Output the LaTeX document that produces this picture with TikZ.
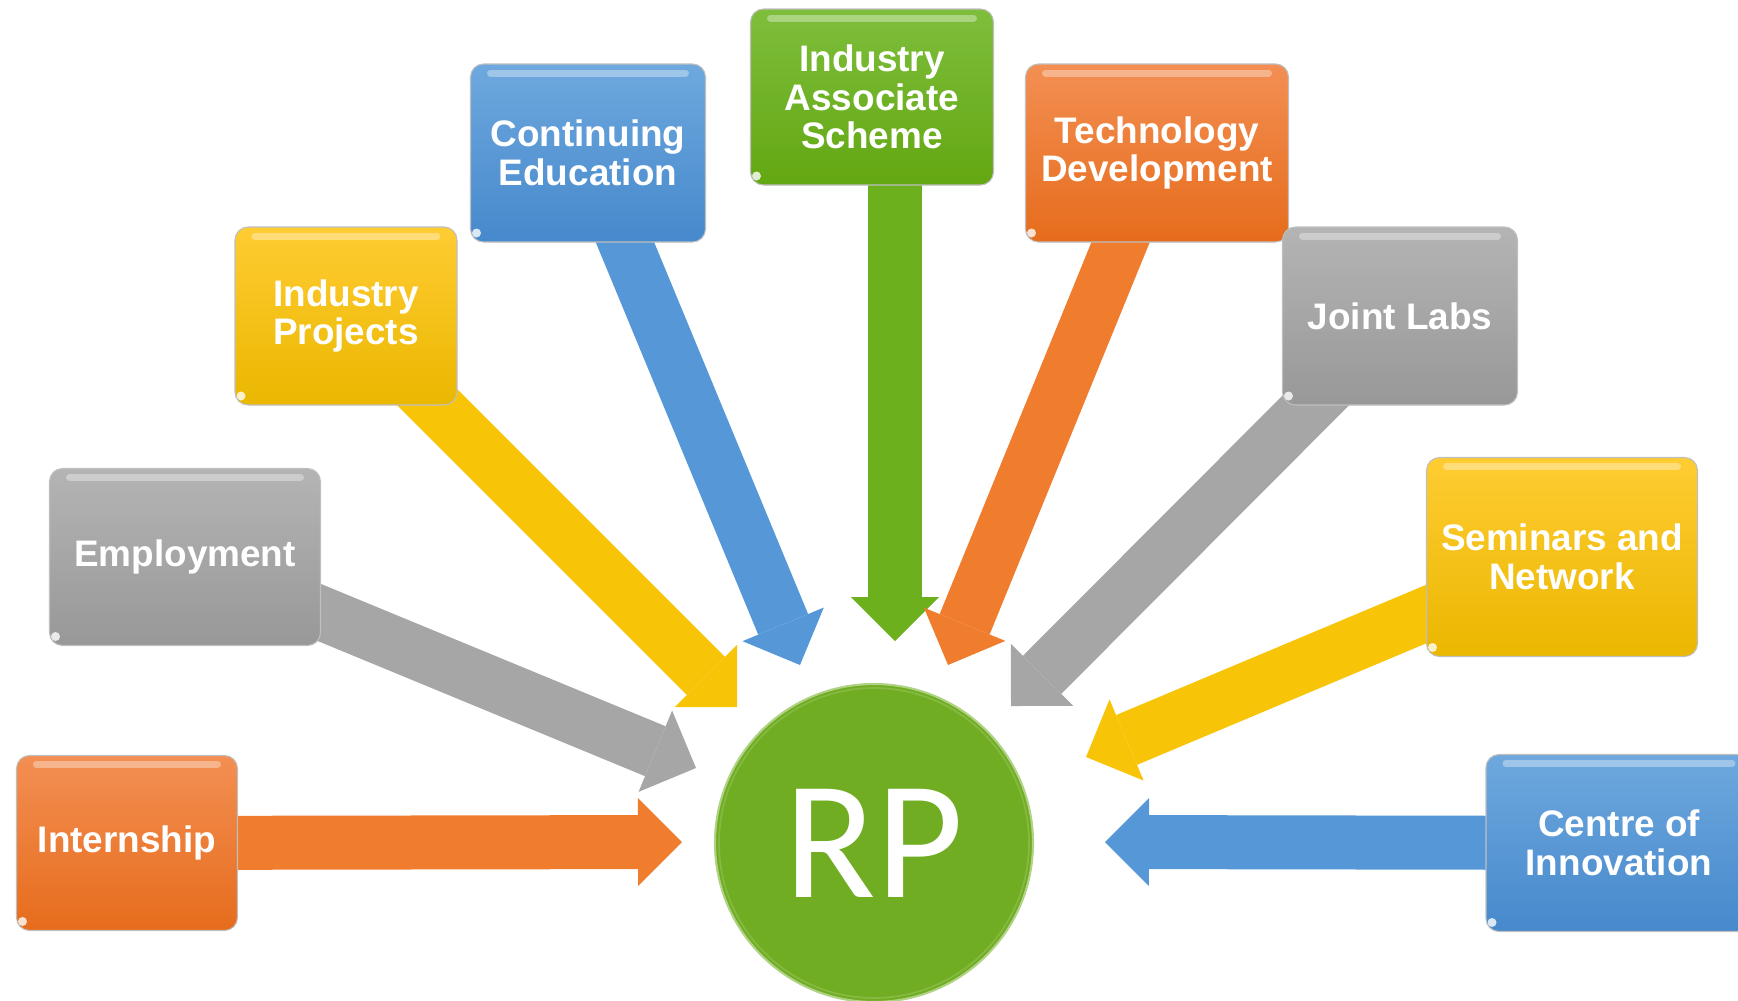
\documentclass[tikz,border=0pt]{standalone}
\usepackage{fontspec}
\setmainfont{Liberation Sans}
\newfontfamily\rpfont{Carlito}
\usepackage{tikz}
\usetikzlibrary{arrows.meta, backgrounds}

\definecolor{orangeT}{RGB}{243,143,83}
\definecolor{orangeB}{RGB}{230,108,28}
\definecolor{orangeA}{RGB}{240,124,46}
\definecolor{grayT}{RGB}{180,180,180}
\definecolor{grayB}{RGB}{152,152,152}
\definecolor{grayA}{RGB}{166,166,166}
\definecolor{yellowT}{RGB}{255,204,51}
\definecolor{yellowB}{RGB}{234,183,0}
\definecolor{yellowA}{RGB}{248,196,8}
\definecolor{blueT}{RGB}{110,168,222}
\definecolor{blueB}{RGB}{70,137,204}
\definecolor{blueA}{RGB}{86,152,215}
\definecolor{greenT}{RGB}{126,190,60}
\definecolor{greenB}{RGB}{99,167,18}
\definecolor{greenA}{RGB}{108,176,30}
\definecolor{hub}{RGB}{112,173,34}

\tikzset{
    x=0.1mm, y=-0.1mm, % one unit is one pixel, y runs downwards
    box/.style={rounded corners=1.3mm, draw=white!75!black, line width=0.3pt,
        text=white, align=center, inner sep=0pt,
        font=\fontsize{10.5}{11}\selectfont\bfseries,
        path picture={
            % glossy stripe along the top edge
            \draw[white, opacity=0.35, line width=0.7mm, line cap=round]
              ([xshift=2mm, yshift=-0.9mm]path picture bounding box.north west) --
              ([xshift=-2mm, yshift=-0.9mm]path picture bounding box.north east);
            \fill[white, opacity=0.8]
              ([xshift=0.6mm, yshift=0.9mm]path picture bounding box.south west) circle (0.45mm);
        }}, % the coloured tiles
    orangebox/.style={box, top color=orangeT, bottom color=orangeB},
    graybox/.style={box, top color=grayT, bottom color=grayB},
    yellowbox/.style={box, top color=yellowT, bottom color=yellowB},
    bluebox/.style={box, top color=blueT, bottom color=blueB},
    greenbox/.style={box, top color=greenT, bottom color=greenB},
    feed/.style={line width=5.4mm, -{Triangle[width=8.8mm, length=4.4mm, line width=0pt]}}, % block arrow into the hub
}

\begin{document}
\begin{tikzpicture}
\useasboundingbox (0,0) rectangle (1738,1000);

% the hub
\node[circle, fill=hub, draw=white!45!hub, line width=0.6pt, minimum size=31.8mm,
      text=white, font=\rpfont\fontsize{48}{48}\selectfont] (rp) at (874,843) {RP};
\draw[white, opacity=0.15, line width=0.5pt] (rp.center) circle (15.5mm);

% tiles, left to right
\node[orangebox, minimum width=22.1mm, minimum height=17.5mm] (intern)  at (127,843)  {Internship};
\node[graybox,   minimum width=27.1mm, minimum height=17.7mm] (employ)  at (185,557)  {Employment};
\node[yellowbox, minimum width=22.2mm, minimum height=17.8mm] (projects) at (346,316) {Industry\\Projects};
\node[bluebox,   minimum width=23.5mm, minimum height=17.8mm] (conted)  at (588,153)  {Continuing\\Education};
\node[greenbox,  minimum width=24.3mm, minimum height=17.6mm] (assoc)   at (872,97)   {Industry\\Associate\\Scheme};
\node[orangebox, minimum width=26.3mm, minimum height=17.8mm] (techdev) at (1157,153) {Technology\\Development};
\node[graybox,   minimum width=23.5mm, minimum height=17.8mm] (labs)    at (1400,316) {Joint Labs};
\node[yellowbox, minimum width=27.1mm, minimum height=19.9mm] (seminar) at (1562,557) {Seminars and\\Network};
\node[bluebox,   minimum width=26.6mm, minimum height=17.7mm] (centre)  at (1619,843) {Centre of\\Innovation};

% where the arrow tips stop
\coordinate (t-intern)   at (682,842);
\coordinate (t-employ)   at (696,768);
\coordinate (t-projects) at (737,707);
\coordinate (t-conted)   at (800,665);
\coordinate (t-assoc)    at (895,641);
\coordinate (t-techdev)  at (948,665);
\coordinate (t-labs)     at (1011,706);
\coordinate (t-seminar)  at (1086,757);
\coordinate (t-centre)   at (1105,842);

% arrows run from the middle of each tile, behind it
\begin{scope}[on background layer]
\draw[feed, orangeA] (intern.center)   -- (t-intern);
\draw[feed, grayA]   (employ.center)   -- (t-employ);
\draw[feed, yellowA] (projects.center) -- (t-projects);
\draw[feed, blueA]   (conted.center)   -- (t-conted);
\draw[feed, greenA]  (t-assoc |- assoc.center) -- (t-assoc);
\draw[feed, orangeA] (techdev.center)  -- (t-techdev);
\draw[feed, grayA]   (labs.center)     -- (t-labs);
\draw[feed, yellowA] (seminar.center)  -- (t-seminar);
\draw[feed, blueA]   (centre.center)   -- (t-centre);
\end{scope}
\end{tikzpicture}
\end{document}
